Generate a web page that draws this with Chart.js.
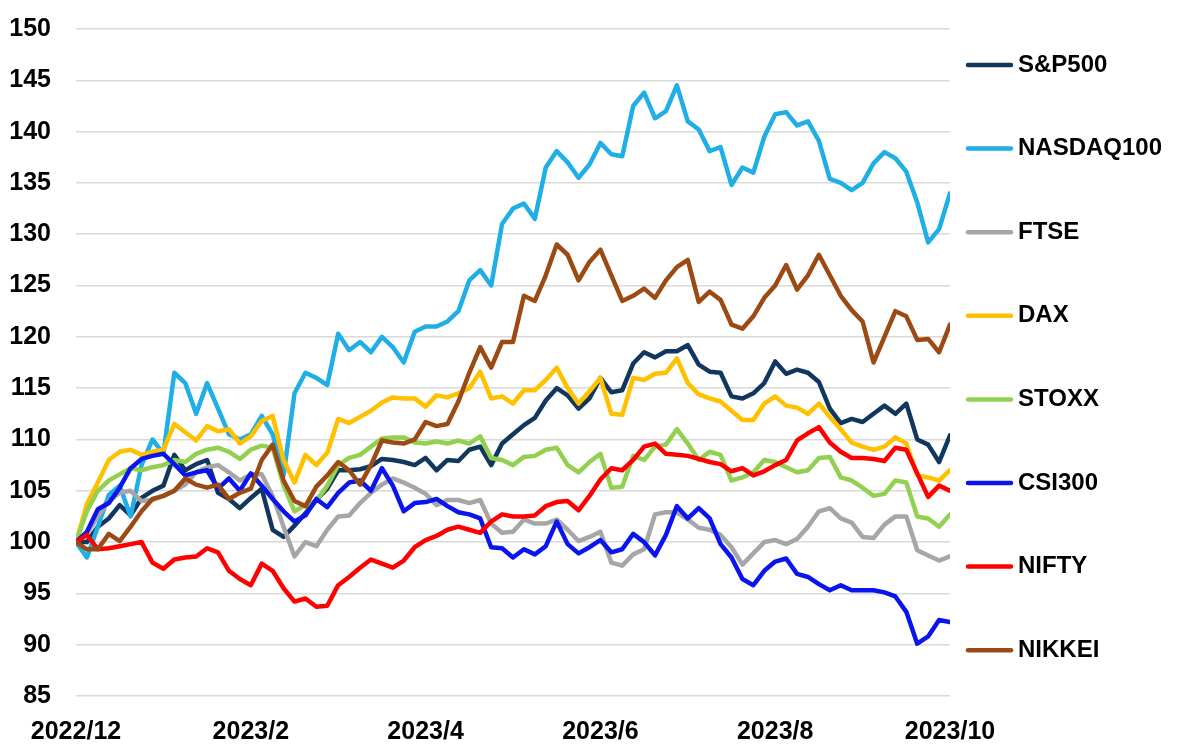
<!DOCTYPE html>
<html>
<head>
<meta charset="utf-8">
<title>Index performance</title>
<script src="https://cdn.jsdelivr.net/npm/chart.js@4.4.1/dist/chart.umd.min.js"></script>
<style>
  html, body { margin: 0; padding: 0; background: #fff; }
  #wrap { width: 1200px; height: 748px; }
</style>
</head>
<body>
<div id="wrap"><canvas id="chart" width="1200" height="748"></canvas></div>
<script>
// Axis labels
const xTickLabels = ['2022/12', '2023/2', '2023/4', '2023/6', '2023/8', '2023/10'];
const seriesNames = ['S&P500', 'NASDAQ100', 'FTSE', 'DAX', 'STOXX', 'CSI300', 'NIFTY', 'NIKKEI'];
const seriesColors = ['#12375e', '#1fafe6', '#a6a6a6', '#ffc000', '#92d050', '#0a14ec', '#ff0000', '#9c4a14'];

// Index levels rebased to 100 (81 samples each)
const sp500 = [100, 100, 101.5, 102.3, 103.6, 102.6, 104.3, 105, 105.5, 108.5,
  107, 107.6, 108, 104.8, 104.2, 103.3, 104.3, 105.2, 101.2, 100.5,
  101.6, 102.8, 104.1, 105.2, 107, 107, 107.1, 107.4, 108.1, 108,
  107.8, 107.5, 108.2, 107, 108, 107.9, 109, 109.3, 107.5, 109.6,
  110.5, 111.4, 112.1, 113.8, 115, 114.3, 113, 114, 116, 114.6,
  114.8, 117.4, 118.5, 118, 118.6, 118.6, 119.2, 117.3, 116.6, 116.5,
  114.2, 114, 114.5, 115.5, 117.6, 116.4, 116.8, 116.5, 115.6, 113,
  111.6, 112, 111.7, 112.5, 113.3, 112.5, 113.5, 110, 109.5, 107.8, 110.4];

const nasdaq100 = [100, 98.5, 101.5, 104.6, 105.5, 102.5, 107.5, 110, 108.6, 116.5,
  115.5, 112.5, 115.5, 113, 110.5, 110, 110.5, 112.3, 110.5, 106.5,
  114.5, 116.5, 116, 115.3, 120.3, 118.7, 119.5, 118.5, 120, 119,
  117.5, 120.5, 121, 121, 121.5, 122.5, 125.5, 126.5, 125, 131,
  132.5, 133, 131.5, 136.5, 138.1, 137, 135.5, 136.8, 138.9, 137.8,
  137.6, 142.5, 143.8, 141.3, 142, 144.5, 141, 140.2, 138.1, 138.5,
  134.8, 136.5, 136, 139.5, 141.7, 141.9, 140.6, 141, 139.1, 135.4,
  135, 134.3, 135, 136.9, 138, 137.4, 136.1, 133.1, 129.2, 130.5, 134];

const ftse = [100, 100.8, 102.5, 104, 104.8, 105, 104, 104.1, 104.5, 105,
  105.6, 106.8, 107.3, 107.5, 106.8, 106, 106.6, 106.6, 104.5, 101.5,
  98.6, 100, 99.6, 101.2, 102.5, 102.6, 103.8, 104.8, 105.6, 106.2,
  105.8, 105.3, 104.7, 103.6, 104.1, 104.1, 103.8, 104.1, 101.8, 100.9,
  101, 102.2, 101.8, 101.8, 102.2, 101.2, 100.1, 100.5, 101, 98,
  97.7, 98.8, 99.3, 102.7, 102.9, 102.9, 102.2, 101.4, 101.2, 100.7,
  99.5, 97.8, 98.9, 100, 100.2, 99.8, 100.3, 101.5, 103, 103.3,
  102.3, 101.9, 100.5, 100.4, 101.7, 102.5, 102.5, 99.2, 98.7, 98.2, 98.6];

const dax = [100, 103.7, 105.8, 108, 108.8, 109, 108.5, 108.8, 109, 111.5,
  110.7, 109.9, 111.3, 110.8, 111, 109.6, 110.3, 111.8, 112.3, 108,
  105.8, 108.5, 107.5, 108.7, 112, 111.6, 112.2, 112.8, 113.6, 114.1,
  114, 114, 113.2, 114.3, 114.1, 114.5, 115, 116.6, 114, 114.2,
  113.5, 114.8, 114.8, 115.8, 117, 115, 113.5, 114.7, 116, 112.5,
  112.4, 116, 115.8, 116.4, 116.5, 117.9, 115.5, 114.4, 114, 113.7,
  112.8, 111.9, 111.9, 113.5, 114.2, 113.3, 113.1, 112.5, 113.5, 112.2,
  111, 109.7, 109.3, 109, 109.3, 110.2, 109.6, 106.5, 106.3, 106, 107];

const stoxx = [100, 103, 105, 106, 106.6, 107.2, 107, 107.3, 107.5, 108,
  107.8, 108.6, 109, 109.2, 108.8, 108.1, 109, 109.4, 109.2, 105.5,
  103, 103.6, 104, 105.5, 107.5, 108.2, 108.5, 109.3, 110.1, 110.2,
  110.2, 109.7, 109.6, 109.8, 109.6, 109.9, 109.6, 110.3, 108.2, 108,
  107.5, 108.3, 108.4, 109, 109.2, 107.5, 106.8, 107.8, 108.6, 105.3,
  105.4, 108.4, 108, 109.3, 109.5, 111, 109.6, 108, 108.8, 108.5,
  106, 106.3, 106.8, 108, 107.8, 107.3, 106.8, 107, 108.2, 108.3,
  106.3, 106, 105.3, 104.5, 104.7, 106, 105.8, 102.5, 102.3, 101.5, 102.7];

const csi300 = [100, 101, 103.2, 103.8, 105.3, 107.2, 108.1, 108.4, 108.6, 107.6,
  106.5, 106.8, 107, 105.2, 106.2, 105, 106.7, 105.5, 104.2, 103,
  102, 102.6, 104.2, 103.4, 104.8, 105.8, 106, 105, 107.2, 105.5,
  103, 103.8, 103.9, 104.2, 103.5, 102.9, 102.7, 102.3, 99.5, 99.4,
  98.5, 99.3, 98.8, 99.6, 102, 99.8, 98.9, 99.5, 100.2, 99,
  99.3, 100.8, 100, 98.7, 100.7, 103.5, 102.3, 103.3, 102.3, 99.8,
  98.5, 96.4, 95.8, 97.2, 98.1, 98.4, 96.9, 96.6, 95.9, 95.3,
  95.8, 95.3, 95.3, 95.3, 95.1, 94.7, 93.2, 90.1, 90.8, 92.4, 92.2];

const nifty = [100, 100.7, 99.3, 99.4, 99.6, 99.8, 100, 98, 97.4, 98.3,
  98.5, 98.6, 99.4, 99, 97.2, 96.4, 95.8, 97.9, 97.2, 95.5,
  94.2, 94.5, 93.7, 93.8, 95.8, 96.6, 97.5, 98.3, 97.9, 97.5,
  98.2, 99.5, 100.2, 100.6, 101.2, 101.5, 101.2, 100.9, 102, 102.7,
  102.5, 102.5, 102.6, 103.5, 103.9, 104, 103.1, 104.5, 106.1, 107.2,
  107, 108, 109.3, 109.6, 108.6, 108.5, 108.4, 108.1, 107.8, 107.6,
  106.9, 107.2, 106.5, 106.9, 107.5, 108, 109.9, 110.6, 111.2, 109.7,
  108.8, 108.2, 108.2, 108.1, 107.9, 109.2, 109, 106.7, 104.4, 105.5, 105];

const nikkei = [100, 99.3, 99.3, 100.8, 100.1, 101.5, 103, 104.2, 104.5, 105,
  106.2, 105.6, 105.3, 105.6, 104.2, 104.8, 105.2, 108, 109.5, 106,
  104, 103.5, 105.4, 106.5, 107.8, 107, 105.6, 107.5, 109.9, 109.7,
  109.6, 110, 111.7, 111.3, 111.5, 113.7, 116.5, 119, 117, 119.5,
  119.5, 124, 123.5, 126, 129, 128, 125.5, 127.3, 128.5, 126,
  123.5, 124, 124.7, 123.8, 125.5, 126.8, 127.5, 123.4, 124.4, 123.6,
  121.2, 120.8, 122, 123.8, 125, 127, 124.6, 126, 128, 126,
  124, 122.6, 121.5, 117.5, 120, 122.5, 122, 119.7, 119.8, 118.5, 121.2];

const seriesValues = [sp500, nasdaq100, ftse, dax, stoxx, csi300, nifty, nikkei];
const lastIndex = sp500.length - 1;
const tickStep = lastIndex / (xTickLabels.length - 1);

const FONT = '"Liberation Sans", Arial, Helvetica, sans-serif';

// Legend drawn at the right, one row per series, like the source
const sideLegend = {
  id: 'sideLegend',
  afterDraw(chart) {
    const ctx = chart.ctx;
    ctx.save();
    ctx.font = 'bold 24px ' + FONT;
    ctx.textBaseline = 'middle';
    ctx.textAlign = 'left';
    chart.data.datasets.forEach((ds, i) => {
      const y = 65 + i * 83.6;
      ctx.strokeStyle = ds.borderColor;
      ctx.lineWidth = 4.5;
      ctx.lineCap = 'round';
      ctx.beginPath();
      ctx.moveTo(968, y);
      ctx.lineTo(1011, y);
      ctx.stroke();
      ctx.fillStyle = '#000';
      ctx.fillText(ds.label, 1018, y);
    });
    ctx.restore();
  }
};

const datasets = seriesNames.map((name, i) => ({
  label: name,
  data: seriesValues[i].map((v, j) => ({ x: j, y: v })),
  borderColor: seriesColors[i],
  backgroundColor: seriesColors[i],
  borderWidth: 4.5,
  borderJoinStyle: 'round',
  borderCapStyle: 'round',
  pointRadius: 0,
  tension: 0,
  fill: false,
  order: seriesNames.length - i   // later series sit on top
}));

const ctx = document.getElementById('chart').getContext('2d');

new Chart(ctx, {
  type: 'line',
  data: { datasets: datasets },
  plugins: [sideLegend],
  options: {
    responsive: false,
    animation: false,
    layout: {
      padding: { top: 29, right: 250, bottom: 0, left: 0 }
    },
    plugins: {
      legend: { display: false },
      tooltip: { enabled: false }
    },
    scales: {
      x: {
        type: 'linear',
        min: 0,
        max: lastIndex,
        afterFit: (scale) => { scale.height = 52; },
        grid: { display: false, drawTicks: false },
        border: { display: false },
        ticks: {
          stepSize: tickStep,
          autoSkip: false,
          maxRotation: 0,
          padding: 21,
          color: '#000',
          font: { family: FONT, size: 25, weight: 'bold' },
          callback: (value) => xTickLabels[Math.round(value / tickStep)]
        }
      },
      y: {
        min: 85,
        max: 150,
        // keep the label gap without it pushing the plot down
        afterFit: (scale) => {
          scale.width = 76;
          scale.paddingTop = 14;
          scale.paddingBottom = 14;
        },
        grid: { color: '#d9d9d9', lineWidth: 1.5, drawTicks: false },
        border: { display: false },
        ticks: {
          stepSize: 5,
          padding: 25,
          color: '#000',
          font: { family: FONT, size: 25, weight: 'bold' }
        }
      }
    }
  }
});
</script>
</body>
</html>
